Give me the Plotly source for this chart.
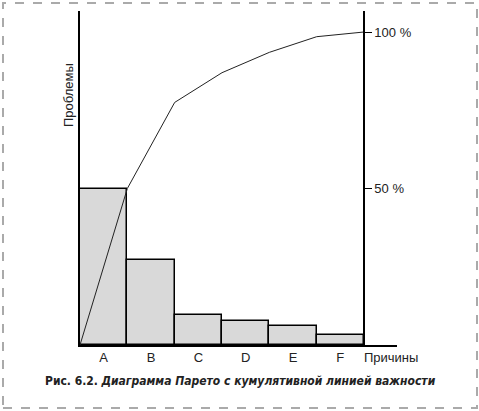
import plotly.graph_objects as go

categories = ["A", "B", "C", "D", "E", "F"]
bar_values = [50, 27, 9.6, 7.7, 6, 3.2]
cum_x = [0, 1, 2, 3, 4, 5, 6]
cum_values = [0, 50, 77.5, 87, 93.5, 98.5, 100]
right_ticks = [50, 100]

W, H = 479, 411
L, R, T, B = 80, 397, 11, 345
pw, ph = R - L, B - T
def px(x): return (x - L) / pw
def py(y): return (B - y) / ph

ymax = 100 * ph / (B - 32)
xmax = 6 * pw / (364 - L)

fig = go.Figure()
fig.add_trace(go.Bar(
    x=[i + 0.5 for i in range(len(categories))], y=bar_values, width=1,
    marker=dict(color="#d9d9d9", line=dict(color="black", width=1.5)),
    showlegend=False, hoverinfo="skip"))
fig.add_trace(go.Scatter(
    x=cum_x, y=cum_values, mode="lines", yaxis="y2",
    line=dict(color="#222", width=1), showlegend=False, hoverinfo="skip"))

font = dict(family="Liberation Sans, Arial, sans-serif", size=13, color="#222")

fig.update_layout(
    width=W, height=H,
    margin=dict(l=L, r=W - R, t=T, b=H - B),
    paper_bgcolor="white", plot_bgcolor="white",
    font=font,
    xaxis=dict(range=[0, xmax], tickvals=[i + 0.5 for i in range(len(categories))],
               ticktext=categories, showline=True, linecolor="black", linewidth=1.5,
               showgrid=False, zeroline=False, ticks="", tickfont=font),
    yaxis=dict(range=[0, ymax], showline=True, linecolor="black", linewidth=1.5,
               showgrid=False, zeroline=False, showticklabels=False, ticks=""),
    yaxis2=dict(range=[0, ymax], overlaying="y", anchor="free", position=px(364),
                side="right", showline=True, linecolor="black", linewidth=1.5,
                showgrid=False, zeroline=False, tickvals=right_ticks,
                ticktext=[f"{v} %" for v in right_ticks], ticks="outside",
                ticklen=7, tickcolor="black", tickwidth=1, tickfont=font),
    bargap=0,
)

fig.add_shape(type="rect", xref="paper", yref="paper",
              x0=px(3), x1=px(477), y0=py(408), y1=py(3),
              line=dict(color="#aaaaaa", width=2, dash="dash"))

fig.add_annotation(text="Проблемы", xref="paper", yref="paper", x=px(68), y=py(95),
                   textangle=-90, showarrow=False, font=font, xanchor="center", yanchor="middle")
fig.add_annotation(text="Причины", xref="paper", yref="paper", x=px(362), y=py(357),
                   showarrow=False, font=font, xanchor="left", yanchor="middle")
fig.add_annotation(text="<b>Рис. 6.2.</b> <b><i>Диаграмма Парето с кумулятивной линией важности</i></b>",
                   xref="paper", yref="paper", x=px(240), y=py(381), showarrow=False,
                   font=dict(family="Liberation Sans Narrow, DejaVu Sans Condensed, sans-serif",
                             size=12, color="#222"),
                   xanchor="center", yanchor="middle")

fig.write_html("out.html", config={"displayModeBar": False},
               post_script="document.body.style.margin='0px';")
